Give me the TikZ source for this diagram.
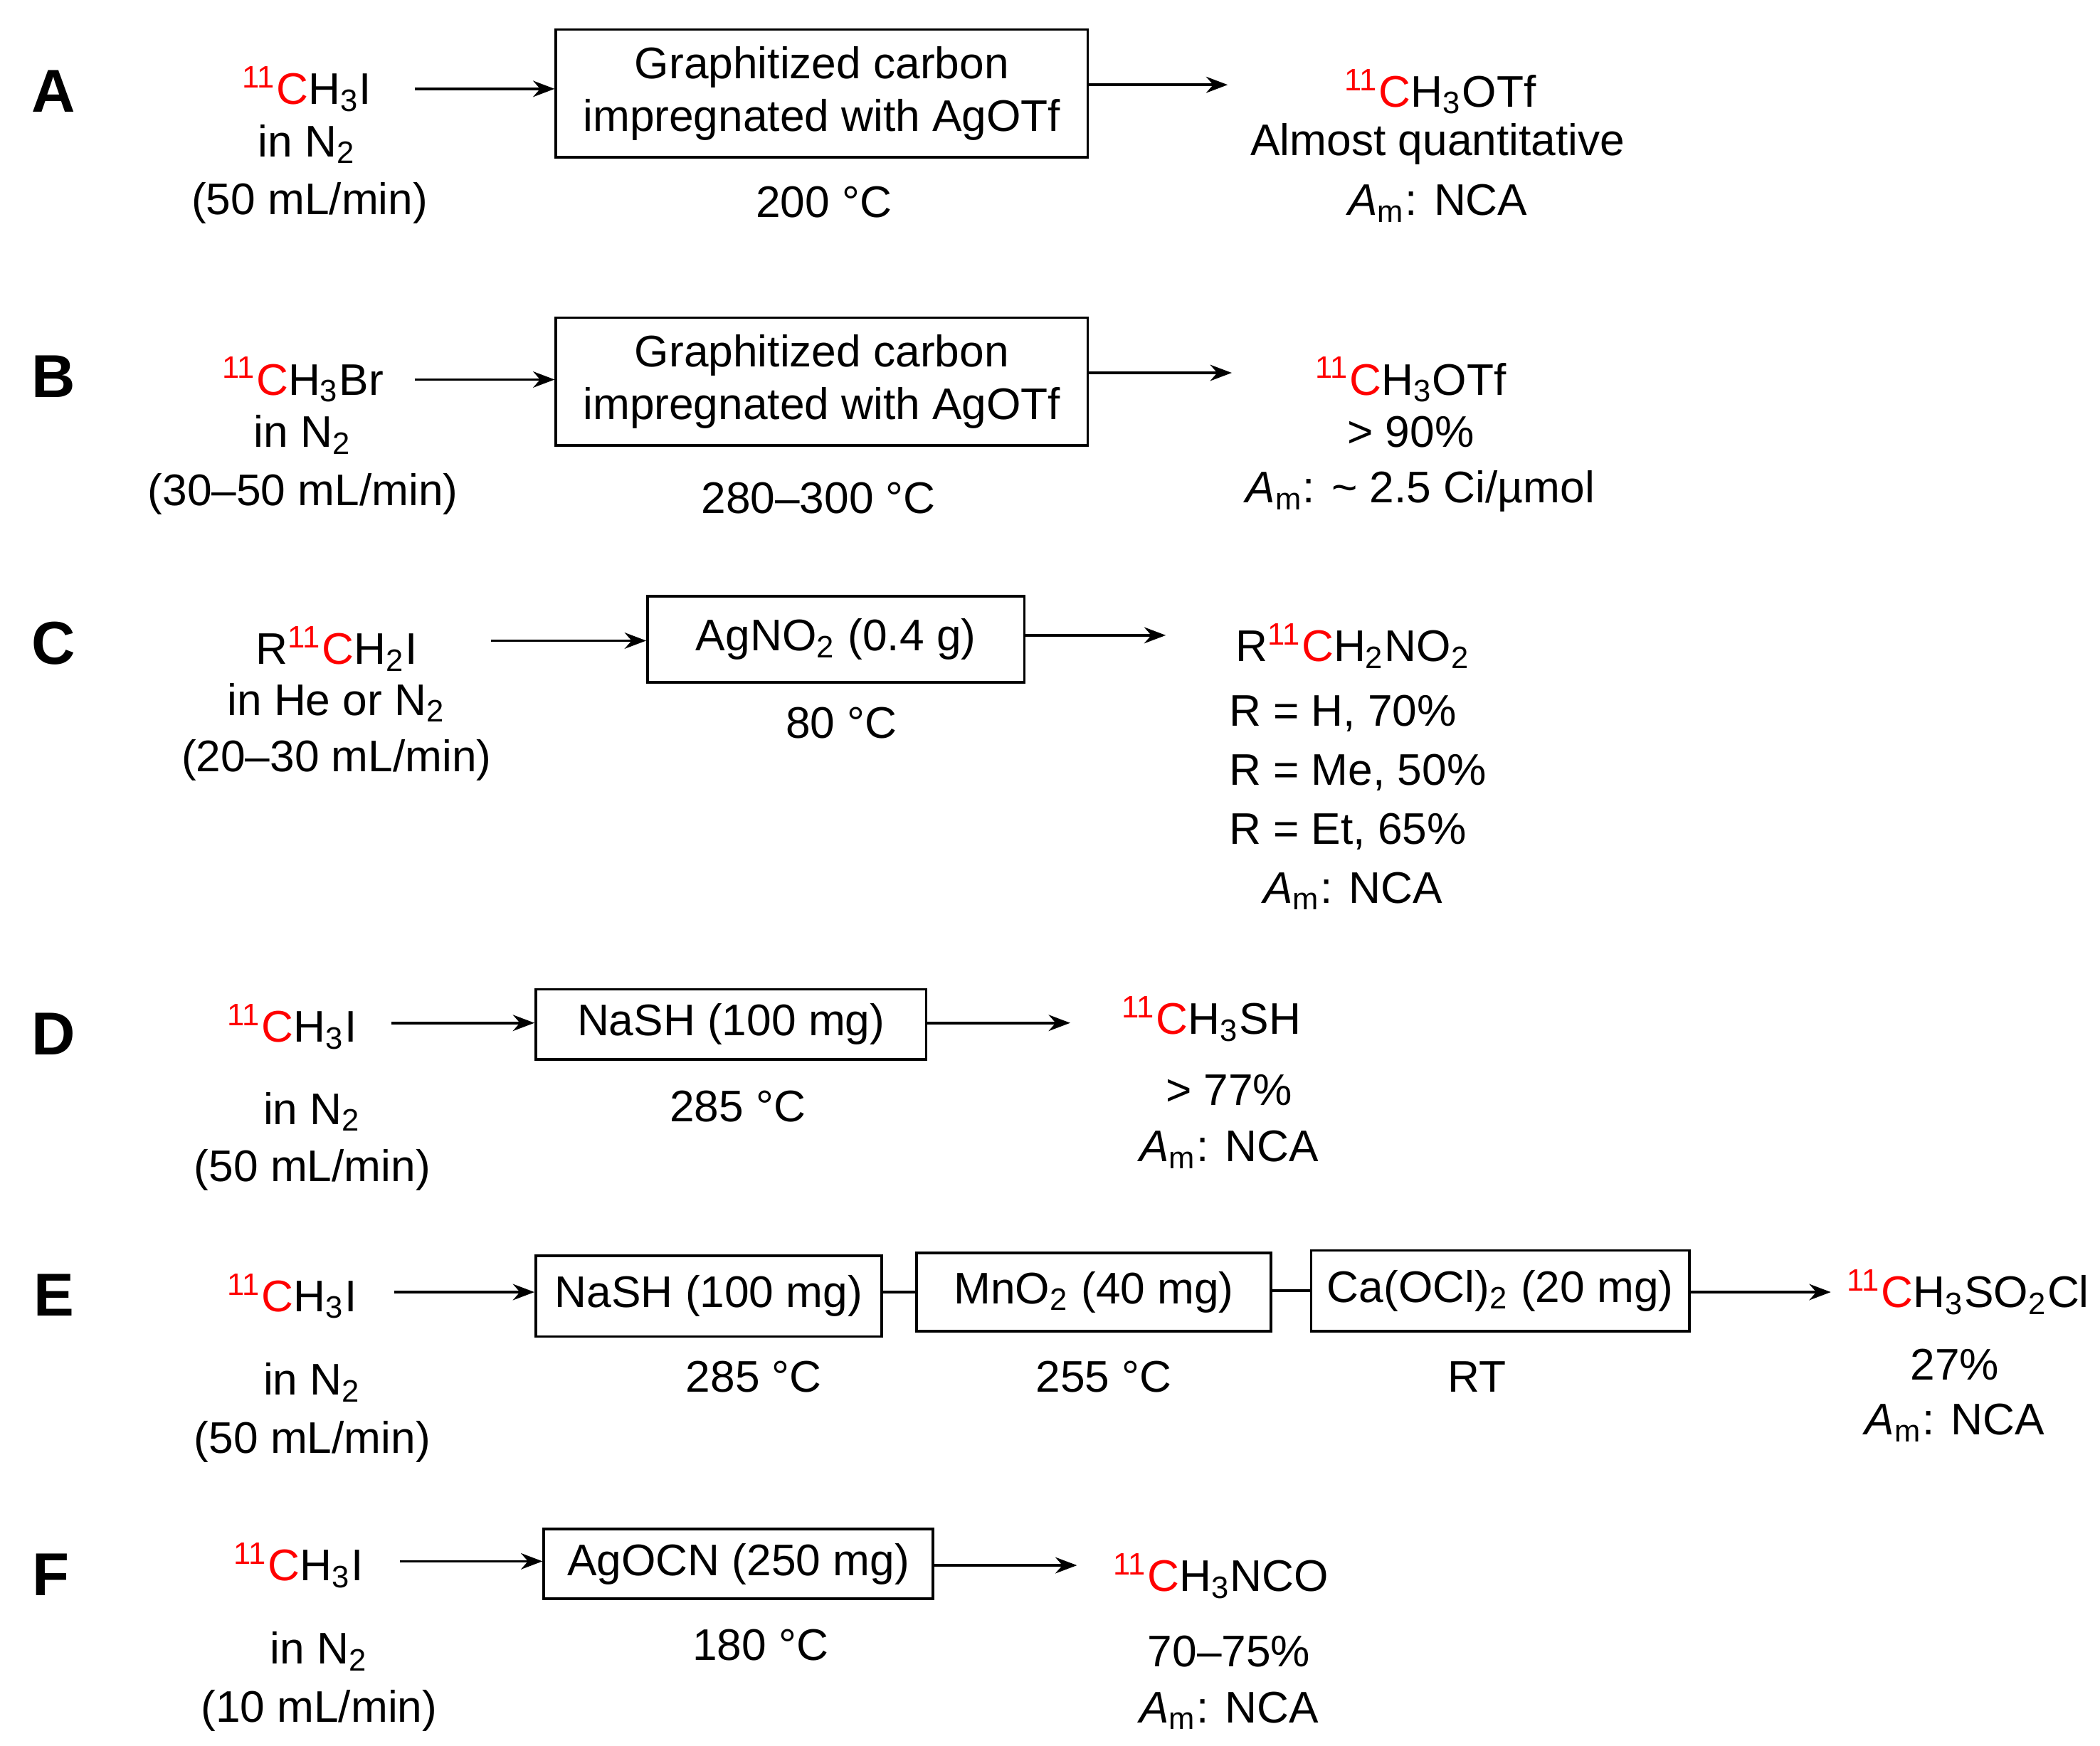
\documentclass[tikz,border=0pt]{standalone}
\usepackage{fontspec}
\setmainfont{Liberation Sans}
\usetikzlibrary{positioning,arrows.meta}
\newcommand{\px}{0.125mm}
\newcommand{\Cel}[1]{\textcolor{red}{\textsuperscript{11}C}}
\newcommand{\Amol}{\textit{A}\textsubscript{m}}
\tikzset{
  figfont/.style={font=\fontsize{11.7}{14}\selectfont},
  lbl/.style={font=\fontsize{16}{18}\selectfont\bfseries},
  figbox/.style={draw, line width=0.7pt, inner sep=0pt, align=center},
  figarrow/.style={-{Stealth[length=2mm,width=1.5mm]}, line width=0.7pt},
  figline/.style={line width=0.7pt},
}
\begin{document}
\begin{tikzpicture}[figfont, x=\px, y=-\px]
  \useasboundingbox (0,0) rectangle (1560,1297);

  % Row A
  \node[lbl] (la) at (40,68) {A};
  \node (ra1) at (228,66) {\Cel{}H\textsubscript{3}I};
  \node (ra2) at (228,107) {in N\textsubscript{2}};
  \node (ra3) at (230,151) {(50 mL/min)};
  \node[figbox, minimum width={395*\px}, minimum height={95*\px}] (ba) at (610.5,69.5)
    {Graphitized carbon\\impregnated with AgOTf};
  \node (ta) at (612,150) {200 °C};
  \coordinate (sa) at (308,66);
  \coordinate (ea) at (912,63);
  \draw[figarrow] (sa) -- (sa -| ba.west);
  \draw[figarrow] (ea -| ba.east) -- (ea);
  \node (pa1) at (1070,68) {\Cel{}H\textsubscript{3}OTf};
  \node (pa2) at (1068,107) {Almost quantitative};
  \node (pa3) at (1068,151) {\Amol: NCA};

  % Row B
  \node[lbl] (lb) at (40,280) {B};
  \node (rb1) at (225,282) {\Cel{}H\textsubscript{3}Br};
  \node (rb2) at (225,323) {in N\textsubscript{2}};
  \node (rb3) at (225,367) {(30–50 mL/min)};
  \node[figbox, minimum width={395*\px}, minimum height={95*\px}] (bb) at (610.5,283.5)
    {Graphitized carbon\\impregnated with AgOTf};
  \node (tb) at (608,370) {280–300 °C};
  \coordinate (sb) at (308,282);
  \coordinate (eb) at (915,277);
  \draw[figarrow] (sb) -- (sb -| bb.west);
  \draw[figarrow] (eb -| bb.east) -- (eb);
  \node (pb1) at (1048,282) {\Cel{}H\textsubscript{3}OTf};
  \node (pb2) at (1048,321) {> 90\%};
  \node (pb3) at (1055,365) {\Amol: \textasciitilde{} 2.5 Ci/µmol};

  % Row C
  \node[lbl] (lc) at (40,478) {C};
  \node (rc1) at (250,482) {R\Cel{}H\textsubscript{2}I};
  \node (rc2) at (250,522) {in He or N\textsubscript{2}};
  \node (rc3) at (250,565) {(20–30 mL/min)};
  \node[figbox, minimum width={280*\px}, minimum height={64*\px}] (bc) at (621,475)
    {AgNO\textsubscript{2} (0.4 g)};
  \node (tc) at (625,537) {80 °C};
  \coordinate (sc) at (365,476);
  \coordinate (ec) at (866,472);
  \draw[figarrow] (sc) -- (sc -| bc.west);
  \draw[figarrow] (ec -| bc.east) -- (ec);
  \node (pc1) at (1005,480) {R\Cel{}H\textsubscript{2}NO\textsubscript{2}};
  \node[anchor=west] (pc2) at (903,530) {R = H, 70\%};
  \node[anchor=west] (pc3) at (903,574) {R = Me, 50\%};
  \node[anchor=west] (pc4) at (903,618) {R = Et, 65\%};
  \node (pc5) at (1005,662) {\Amol: NCA};

  % Row D
  \node[lbl] (ld) at (40,768) {D};
  \node (rd1) at (217,763) {\Cel{}H\textsubscript{3}I};
  \node (rd2) at (232,826) {in N\textsubscript{2}};
  \node (rd3) at (232,869) {(50 mL/min)};
  \node[figbox, minimum width={290*\px}, minimum height={52*\px}] (bd) at (543,761)
    {NaSH (100 mg)};
  \node (td) at (548,822) {285 °C};
  \coordinate (sd) at (291,760);
  \coordinate (ed) at (795,760);
  \draw[figarrow] (sd) -- (sd -| bd.west);
  \draw[figarrow] (ed -| bd.east) -- (ed);
  \node (pd1) at (900,757) {\Cel{}H\textsubscript{3}SH};
  \node (pd2) at (913,810) {> 77\%};
  \node (pd3) at (913,854) {\Amol: NCA};

  % Row E
  \node[lbl] (le) at (40,962) {E};
  \node (re1) at (217,963) {\Cel{}H\textsubscript{3}I};
  \node (re2) at (232,1027) {in N\textsubscript{2}};
  \node (re3) at (232,1071) {(50 mL/min)};
  \node[figbox, minimum width={257*\px}, minimum height={60*\px}] (be1) at (526.5,963)
    {NaSH (100 mg)};
  \node[figbox, minimum width={263*\px}, minimum height={58*\px}] (be2) at (812.5,960)
    {MnO\textsubscript{2} (40 mg)};
  \node[figbox, minimum width={281*\px}, minimum height={60*\px}] (be3) at (1114.5,959)
    {Ca(OCl)\textsubscript{2} (20 mg)};
  \node (te1) at (560,1023) {285 °C};
  \node (te2) at (820,1023) {255 °C};
  \node (te3) at (1097,1023) {RT};
  \coordinate (se) at (293,960);
  \coordinate (ee) at (1360,960);
  \draw[figarrow] (se) -- (se -| be1.west);
  \draw[figline] (be1.east |- be2.west) -- (be2.west);
  \draw[figline] (be2.east |- be3.west) -- (be3.west);
  \draw[figarrow] (ee -| be3.east) -- (ee);
  \node (pe1) at (1462,960) {\Cel{}H\textsubscript{3}SO\textsubscript{2}Cl};
  \node (pe2) at (1452,1014) {27\%};
  \node (pe3) at (1452,1057) {\Amol: NCA};

  % Row F
  \node[lbl] (lf) at (38,1170) {F};
  \node (rf1) at (222,1163) {\Cel{}H\textsubscript{3}I};
  \node (rf2) at (237,1227) {in N\textsubscript{2}};
  \node (rf3) at (237,1271) {(10 mL/min)};
  \node[figbox, minimum width={289*\px}, minimum height={52*\px}] (bf) at (548.5,1162)
    {AgOCN (250 mg)};
  \node (tf) at (565,1222) {180 °C};
  \coordinate (sf) at (297,1160);
  \coordinate (ef) at (800,1163);
  \draw[figarrow] (sf) -- (sf -| bf.west);
  \draw[figarrow] (ef -| bf.east) -- (ef);
  \node (pf1) at (907,1171) {\Cel{}H\textsubscript{3}NCO};
  \node (pf2) at (913,1227) {70–75\%};
  \node (pf3) at (913,1271) {\Amol: NCA};
\end{tikzpicture}
\end{document}
